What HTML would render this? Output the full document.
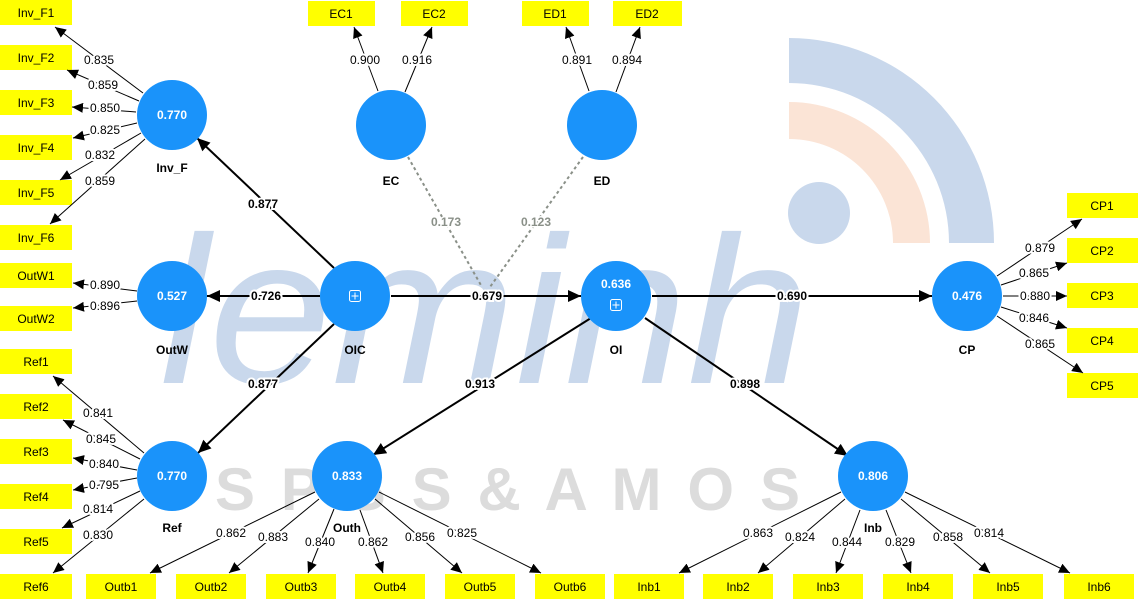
<!DOCTYPE html>
<html><head><meta charset="utf-8"><style>
html,body{margin:0;padding:0;background:#fff;}
svg{display:block;font-family:"Liberation Sans",Arial,sans-serif;}
.l{font-size:12px;fill:#000;text-anchor:middle;dominant-baseline:central;paint-order:stroke;stroke:#fff;stroke-width:4px;stroke-linejoin:round;}
.p{font-size:12px;font-weight:bold;fill:#000;text-anchor:middle;dominant-baseline:central;paint-order:stroke;stroke:#fff;stroke-width:4px;}
.g{font-size:12px;font-weight:bold;fill:#8a9088;text-anchor:middle;dominant-baseline:central;paint-order:stroke;stroke:#fff;stroke-width:3px;}
.v{font-size:12px;font-weight:bold;fill:#fff;text-anchor:middle;dominant-baseline:central;}
.n{font-size:12px;font-weight:bold;fill:#000;text-anchor:middle;dominant-baseline:central;}
.b{font-size:12px;fill:#000;text-anchor:middle;dominant-baseline:central;}
.t line{stroke:#000;stroke-width:1;marker-end:url(#a);}
.s line{stroke:#000;stroke-width:2;marker-end:url(#A);}
</style></head><body>
<svg width="1138" height="602" viewBox="0 0 1138 602" xmlns="http://www.w3.org/2000/svg">
<defs>
<marker id="a" markerUnits="userSpaceOnUse" markerWidth="12" markerHeight="10" refX="11" refY="5" orient="auto"><path d="M0,0 L11,5 L0,10 z" fill="#000"/></marker>
<marker id="A" markerUnits="userSpaceOnUse" markerWidth="14" markerHeight="12" refX="13" refY="6" orient="auto"><path d="M0,0 L13,6 L0,12 z" fill="#000"/></marker>
</defs>
<!-- watermark -->
<path d="M789,38 A205,205 0 0 1 994,243 L949,243 A160,160 0 0 0 789,83 Z" fill="#c9d8ec"/>
<path d="M789,102 A141,141 0 0 1 930,243 L893,243 A104,104 0 0 0 789,139 Z" fill="#fbe4d6"/>
<circle cx="819" cy="213" r="31" fill="#c9d8ec"/>
<text x="160" y="383" font-size="210" font-style="italic" fill="#c9d8ec" textLength="650" lengthAdjust="spacingAndGlyphs">leminh</text>
<text x="215" y="510" font-size="60" font-weight="bold" fill="#dcdcdc" textLength="585" lengthAdjust="spacing">S P S S &amp; A M O S</text>

<!-- indicator boxes -->
<g fill="#ffff00">
<rect x="0" y="0" width="72" height="25"/><rect x="0" y="45" width="72" height="25"/><rect x="0" y="90" width="72" height="25"/><rect x="0" y="135" width="72" height="25"/><rect x="0" y="180" width="72" height="25"/><rect x="0" y="225" width="72" height="25"/>
<rect x="0" y="263" width="72" height="25"/><rect x="0" y="306" width="72" height="25"/>
<rect x="0" y="349" width="72" height="25"/><rect x="0" y="394" width="72" height="25"/><rect x="0" y="439" width="72" height="25"/><rect x="0" y="484" width="72" height="25"/><rect x="0" y="529" width="72" height="25"/><rect x="0" y="574" width="72" height="25"/>
<rect x="86" y="574" width="70" height="25"/><rect x="176" y="574" width="70" height="25"/><rect x="266" y="574" width="70" height="25"/><rect x="355" y="574" width="70" height="25"/><rect x="445" y="574" width="70" height="25"/><rect x="535" y="574" width="70" height="25"/>
<rect x="614" y="574" width="70" height="25"/><rect x="703" y="574" width="70" height="25"/><rect x="793" y="574" width="70" height="25"/><rect x="883" y="574" width="70" height="25"/><rect x="973" y="574" width="70" height="25"/><rect x="1064" y="574" width="70" height="25"/>
<rect x="308" y="1" width="67" height="25"/><rect x="401" y="1" width="67" height="25"/><rect x="522" y="1" width="67" height="25"/><rect x="613" y="1" width="69" height="25"/>
<rect x="1067" y="193" width="71" height="25"/><rect x="1067" y="238" width="71" height="25"/><rect x="1067" y="283" width="71" height="25"/><rect x="1067" y="328" width="71" height="25"/><rect x="1067" y="373" width="71" height="25"/>
</g>
<g class="b">
<text x="36" y="13">Inv_F1</text><text x="36" y="58">Inv_F2</text><text x="36" y="103">Inv_F3</text><text x="36" y="148">Inv_F4</text><text x="36" y="193">Inv_F5</text><text x="36" y="238">Inv_F6</text>
<text x="36" y="276">OutW1</text><text x="36" y="319">OutW2</text>
<text x="36" y="362">Ref1</text><text x="36" y="407">Ref2</text><text x="36" y="452">Ref3</text><text x="36" y="497">Ref4</text><text x="36" y="542">Ref5</text><text x="36" y="587">Ref6</text>
<text x="121" y="587">Outb1</text><text x="211" y="587">Outb2</text><text x="301" y="587">Outb3</text><text x="390" y="587">Outb4</text><text x="480" y="587">Outb5</text><text x="570" y="587">Outb6</text>
<text x="649" y="587">Inb1</text><text x="738" y="587">Inb2</text><text x="828" y="587">Inb3</text><text x="918" y="587">Inb4</text><text x="1008" y="587">Inb5</text><text x="1099" y="587">Inb6</text>
<text x="341" y="14">EC1</text><text x="434" y="14">EC2</text><text x="555" y="14">ED1</text><text x="647" y="14">ED2</text>
<text x="1102" y="206">CP1</text><text x="1102" y="251">CP2</text><text x="1102" y="296">CP3</text><text x="1102" y="341">CP4</text><text x="1102" y="386">CP5</text>
</g>

<!-- loading lines -->
<g class="t">
<line x1="143" y1="93" x2="55" y2="27"/><line x1="139" y1="101" x2="67" y2="70"/><line x1="136" y1="112" x2="72" y2="107"/><line x1="137" y1="123" x2="73" y2="138"/><line x1="141" y1="133" x2="60" y2="180"/><line x1="145" y1="139" x2="50" y2="224"/>
<line x1="137" y1="291" x2="73" y2="283"/><line x1="137" y1="301" x2="73" y2="308"/>
<line x1="144" y1="453" x2="53" y2="376"/><line x1="140" y1="459" x2="63" y2="420"/><line x1="137" y1="470" x2="73" y2="458"/><line x1="137" y1="478" x2="73" y2="490"/><line x1="140" y1="491" x2="62" y2="528"/><line x1="144" y1="499" x2="53" y2="573"/>
<line x1="315" y1="492" x2="150" y2="573"/><line x1="319" y1="499" x2="229" y2="573"/><line x1="334" y1="509" x2="308" y2="573"/><line x1="360" y1="510" x2="383" y2="573"/><line x1="375" y1="499" x2="462" y2="573"/><line x1="379" y1="492" x2="541" y2="573"/>
<line x1="841" y1="492" x2="679" y2="573"/><line x1="845" y1="499" x2="758" y2="573"/><line x1="860" y1="510" x2="836" y2="573"/><line x1="886" y1="510" x2="911" y2="573"/><line x1="901" y1="499" x2="990" y2="573"/><line x1="905" y1="492" x2="1070" y2="573"/>
<line x1="997" y1="276" x2="1082" y2="219"/><line x1="1001" y1="285" x2="1067" y2="263"/><line x1="1003" y1="296" x2="1067" y2="296"/><line x1="1001" y1="307" x2="1067" y2="328"/><line x1="997" y1="316" x2="1083" y2="373"/>
<line x1="378" y1="91" x2="354" y2="27"/><line x1="405" y1="92" x2="432" y2="27"/><line x1="589" y1="91" x2="566" y2="27"/><line x1="616" y1="92" x2="640" y2="27"/>
</g>
<!-- dashed moderators -->
<line x1="408" y1="157" x2="482" y2="287" stroke="#8a9088" stroke-width="2" stroke-dasharray="3,3"/>
<line x1="583" y1="157" x2="490" y2="287" stroke="#8a9088" stroke-width="2" stroke-dasharray="3,3"/>
<!-- structural -->
<g class="s">
<line x1="334" y1="268" x2="197" y2="138"/>
<line x1="320" y1="296" x2="207" y2="296"/>
<line x1="334" y1="324" x2="198" y2="453"/>
<line x1="391" y1="296" x2="581" y2="296"/>
<line x1="652" y1="296" x2="932" y2="296"/>
<line x1="591" y1="318" x2="373" y2="455"/>
<line x1="645" y1="318" x2="848" y2="456"/>
</g>

<!-- circles -->
<g fill="#1a93fa">
<circle cx="172" cy="115" r="35"/><circle cx="391" cy="125" r="35"/><circle cx="602" cy="125" r="35"/>
<circle cx="172" cy="296" r="35"/><circle cx="355" cy="296" r="35"/><circle cx="616" cy="296" r="35"/><circle cx="967" cy="296" r="35"/>
<circle cx="172" cy="476" r="35"/><circle cx="347" cy="476" r="35"/><circle cx="873" cy="476" r="35"/>
</g>
<g fill="none" stroke="#fff" stroke-width="1">
<rect x="349.5" y="290.5" width="11" height="11" rx="2"/><line x1="355" y1="292.5" x2="355" y2="299.5"/><line x1="351.5" y1="296" x2="358.5" y2="296"/>
<rect x="610.5" y="299.5" width="11" height="11" rx="2"/><line x1="616" y1="301.5" x2="616" y2="308.5"/><line x1="612.5" y1="305" x2="619.5" y2="305"/>
</g>
<g class="v">
<text x="172" y="115">0.770</text><text x="172" y="296">0.527</text><text x="616" y="284">0.636</text><text x="967" y="296">0.476</text>
<text x="172" y="476">0.770</text><text x="347" y="476">0.833</text><text x="873" y="476">0.806</text>
</g>
<g class="n">
<text x="172" y="168">Inv_F</text><text x="391" y="181">EC</text><text x="602" y="181">ED</text>
<text x="172" y="350">OutW</text><text x="355" y="350">OIC</text><text x="616" y="350">OI</text><text x="967" y="350">CP</text>
<text x="172" y="528">Ref</text><text x="347" y="528">Outh</text><text x="873" y="528">Inb</text>
</g>

<!-- loading labels -->
<g class="l">
<text x="99" y="60">0.835</text><text x="103" y="85">0.859</text><text x="105" y="108">0.850</text><text x="105" y="130">0.825</text><text x="100" y="155">0.832</text><text x="100" y="181">0.859</text>
<text x="105" y="285">0.890</text><text x="105" y="306">0.896</text>
<text x="98" y="413">0.841</text><text x="101" y="439">0.845</text><text x="104" y="464">0.840</text><text x="104" y="485">0.795</text><text x="98" y="509">0.814</text><text x="98" y="535">0.830</text>
<text x="231" y="533">0.862</text><text x="273" y="537">0.883</text><text x="320" y="542">0.840</text><text x="373" y="542">0.862</text><text x="420" y="537">0.856</text><text x="462" y="533">0.825</text>
<text x="758" y="533">0.863</text><text x="800" y="537">0.824</text><text x="847" y="542">0.844</text><text x="900" y="542">0.829</text><text x="948" y="537">0.858</text><text x="989" y="533">0.814</text>
<text x="1040" y="248">0.879</text><text x="1034" y="273">0.865</text><text x="1035" y="296">0.880</text><text x="1034" y="318">0.846</text><text x="1040" y="344">0.865</text>
<text x="365" y="60">0.900</text><text x="417" y="60">0.916</text><text x="577" y="60">0.891</text><text x="627" y="60">0.894</text>
</g>
<g class="p">
<text x="263" y="204">0.877</text><text x="266" y="296">0.726</text><text x="263" y="384">0.877</text>
<text x="487" y="296">0.679</text><text x="792" y="296">0.690</text><text x="480" y="384">0.913</text><text x="745" y="384">0.898</text>
</g>
<g class="g"><text x="446" y="222">0.173</text><text x="536" y="222">0.123</text></g>
</svg>
</body></html>
